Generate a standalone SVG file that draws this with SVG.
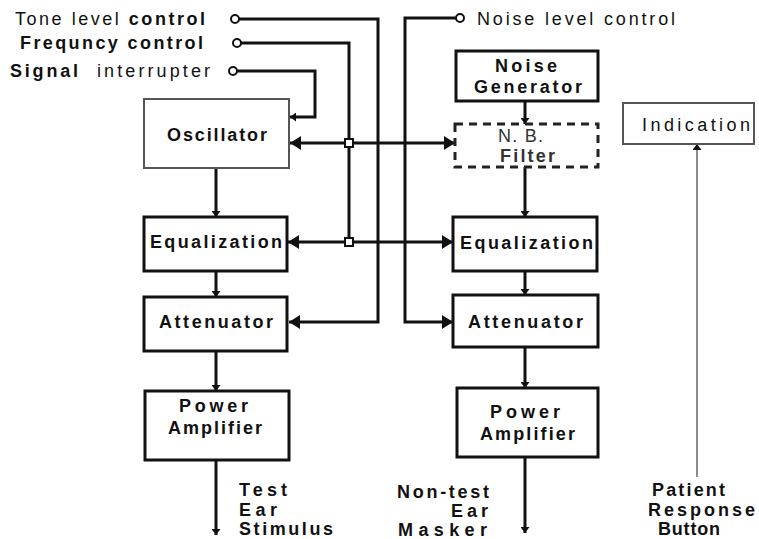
<svg xmlns="http://www.w3.org/2000/svg" width="759" height="539" viewBox="0 0 759 539">
<defs>
<style>
text{font-family:"Liberation Sans",Arial,sans-serif;font-size:18px;font-weight:bold;fill:#111}
.n{font-weight:normal}
.box{fill:#fff;stroke:#111;stroke-width:3}
.thin{fill:#fff;stroke:#555;stroke-width:2}
.dash{fill:#fff;stroke:#222;stroke-width:3;stroke-dasharray:8 6}
.w{fill:none;stroke:#111;stroke-width:3}
.pw{fill:none;stroke:#666;stroke-width:1.5}
.term{fill:#fff;stroke:#111;stroke-width:2}
</style>
<marker id="big" markerUnits="userSpaceOnUse" markerWidth="11" markerHeight="14" refX="11" refY="7" orient="auto-start-reverse"><path d="M0,0 L11,7 L0,14 z" fill="#111"/></marker>
<marker id="sm" markerUnits="userSpaceOnUse" markerWidth="6" markerHeight="9" refX="6" refY="4.5" orient="auto-start-reverse"><path d="M0,0 L6,4.5 L0,9 z" fill="#111"/></marker>
</defs>
<rect width="759" height="539" fill="#fff"/>

<g id="inputs">
<text x="15" y="25" textLength="190" lengthAdjust="spacing"><tspan class="n">Tone level </tspan>control</text>
<text x="20" y="49" textLength="183" lengthAdjust="spacing">Frequncy control</text>
<text x="10" y="77" textLength="68" lengthAdjust="spacing">Signal</text>
<text class="n" x="97" y="77" textLength="113" lengthAdjust="spacing">interrupter</text>
<text class="n" x="477" y="25" textLength="198" lengthAdjust="spacing">Noise level control</text>
</g>

<g id="connectors">
<path class="w" d="M239,19 H378 V322 H289" marker-end="url(#big)"/>
<path class="w" d="M241,43 H349 V242"/>
<path class="w" d="M237,71 H315 V117 H290" marker-end="url(#sm)"/>
<path class="w" d="M456,18 H405 V322 H453" marker-end="url(#big)"/>
<path class="w" d="M290,143 H455" marker-start="url(#big)" marker-end="url(#big)"/>
<path class="w" d="M288,242 H453" marker-start="url(#big)" marker-end="url(#big)"/>
<path class="w" d="M216,168 V217" marker-end="url(#sm)"/>
<path class="w" d="M216,271 V297" marker-end="url(#sm)"/>
<path class="w" d="M216,351 V391" marker-end="url(#sm)"/>
<path class="w" d="M216,460 V535" marker-end="url(#sm)"/>
<path class="w" d="M525,101 V124" marker-end="url(#sm)"/>
<path class="w" d="M525,167 V217" marker-end="url(#sm)"/>
<path class="w" d="M525,271 V295" marker-end="url(#sm)"/>
<path class="w" d="M525,347 V388" marker-end="url(#sm)"/>
<path class="w" d="M525,457 V533" marker-end="url(#sm)"/>
<path class="pw" d="M697,477 V144" marker-end="url(#sm)"/>
<rect class="term" x="345" y="139" width="8" height="8"/>
<rect class="term" x="345" y="238" width="8" height="8"/>
<circle class="term" cx="235" cy="19" r="4"/>
<circle class="term" cx="237" cy="43" r="4"/>
<circle class="term" cx="233" cy="71" r="4"/>
<circle class="term" cx="460" cy="18" r="4"/>
</g>

<g id="oscillator"><rect class="thin" x="144" y="99" width="145" height="69"/><text x="167" y="141" textLength="100" lengthAdjust="spacing">Oscillator</text></g>
<g id="equalization-left"><rect class="box" x="144" y="217" width="143" height="54"/><text x="150" y="248" textLength="132" lengthAdjust="spacing">Equalization</text></g>
<g id="attenuator-left"><rect class="box" x="144" y="297" width="143" height="54"/><text x="159" y="328" textLength="114" lengthAdjust="spacing">Attenuator</text></g>
<g id="power-amplifier-left"><rect class="box" x="145" y="391" width="144" height="69"/><text x="179" y="412" textLength="69" lengthAdjust="spacing">Power</text><text x="168" y="434" textLength="94" lengthAdjust="spacing">Amplifier</text></g>

<g id="noise-generator"><rect class="box" x="456" y="51" width="142" height="50"/><text x="495" y="72" textLength="62" lengthAdjust="spacing">Noise</text><text x="474" y="93" textLength="108" lengthAdjust="spacing">Generator</text></g>
<g id="nb-filter"><rect class="dash" x="455" y="124" width="143" height="43"/><text class="n" x="498" y="142" textLength="45" lengthAdjust="spacing" style="fill:#333">N. B.</text><text x="500" y="162" textLength="55" lengthAdjust="spacing" style="fill:#333">Filter</text></g>
<g id="equalization-right"><rect class="box" x="453" y="217" width="144" height="54"/><text x="460" y="249" textLength="133" lengthAdjust="spacing">Equalization</text></g>
<g id="attenuator-right"><rect class="box" x="453" y="295" width="145" height="52"/><text x="468" y="328" textLength="115" lengthAdjust="spacing">Attenuator</text></g>
<g id="power-amplifier-right"><rect class="box" x="457" y="388" width="141" height="69"/><text x="490" y="418" textLength="70" lengthAdjust="spacing">Power</text><text x="480" y="440" textLength="95" lengthAdjust="spacing">Amplifier</text></g>
<g id="indication"><rect class="thin" x="623" y="103" width="131" height="41"/><text class="n" x="642" y="131" textLength="108" lengthAdjust="spacing">Indication</text></g>

<g id="outputs">
<text x="239" y="496" textLength="48" lengthAdjust="spacing">Test</text>
<text x="239" y="516" textLength="38" lengthAdjust="spacing">Ear</text>
<text x="239" y="535" textLength="94" lengthAdjust="spacing">Stimulus</text>
<text x="397" y="498" textLength="92" lengthAdjust="spacing">Non-test</text>
<text x="451" y="517" textLength="37" lengthAdjust="spacing">Ear</text>
<text x="398" y="536" textLength="89" lengthAdjust="spacing">Masker</text>
<text x="652" y="496" textLength="73" lengthAdjust="spacing">Patient</text>
<text x="648" y="516" textLength="107" lengthAdjust="spacing">Response</text>
<text x="658" y="535" textLength="62" lengthAdjust="spacing">Button</text>
</g>
</svg>
